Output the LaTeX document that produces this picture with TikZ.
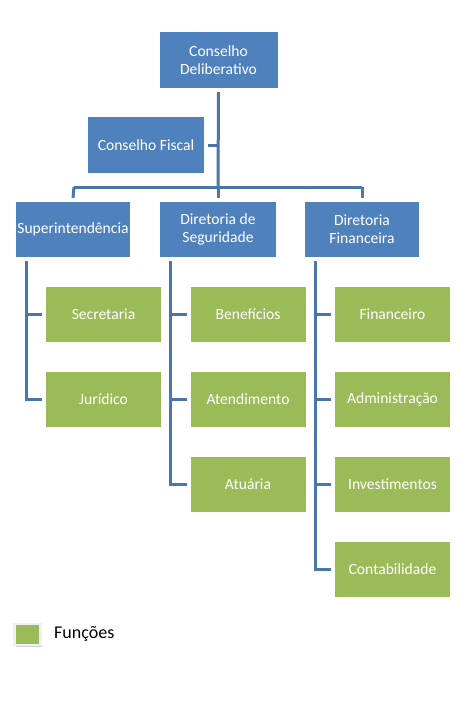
\documentclass[tikz,border=0pt]{standalone}
\usepackage{fontspec}
\setmainfont{Carlito}
\usetikzlibrary{shadows,backgrounds}
\definecolor{boxblue}{HTML}{4F81BD}
\definecolor{boxgreen}{HTML}{9BBB59}
\definecolor{linkblue}{HTML}{4A75AD}
\tikzset{
  orgbox/.style={draw=white, line width=4pt, text=white, align=center,
    font=\fontsize{15.6}{18}\selectfont, inner sep=0pt,
    drop shadow={shadow xshift=1pt, shadow yshift=-1.5pt, opacity=0.35, fill=black!60}},
  bluebox/.style={orgbox, fill=boxblue},
  greenbox/.style={orgbox, fill=boxgreen, minimum width=119pt, minimum height=59pt},
  link/.style={draw=linkblue, line width=3pt}
}
\begin{document}
\begin{tikzpicture}[x=1pt,y=-1pt]
% top
\node[bluebox, minimum width=122pt, minimum height=60pt] (cd) at (218.5,60) {Conselho\\Deliberativo};
\node[bluebox, minimum width=120pt, minimum height=60pt] (cf) at (146,145) {Conselho Fiscal};
% second row
\node[bluebox, minimum width=118pt, minimum height=59pt] (sup) at (73,229.5) {Superintendência};
\node[bluebox, minimum width=120pt, minimum height=59pt] (ds) at (218,229.5) {Diretoria de\\Seguridade};
\node[bluebox, minimum width=118pt, minimum height=59pt] (df) at (362,229.5) {Diretoria\\Financeira};
% children
\node[greenbox] (sec) at (103.5,314.5) {Secretaria};
\node[greenbox] (jur) at (103.5,399) {Jurídico};
\node[greenbox] (ben) at (248,314.5) {Benefícios};
\node[greenbox] (ate) at (248,399) {Atendimento};
\node[greenbox] (atu) at (248,484) {Atuária};
\node[greenbox] (fin) at (392.5,314.5) {Financeiro};
\node[greenbox] (adm) at (392.5,399) {Administração};
\node[greenbox] (inv) at (392.5,484) {Investimentos};
\node[greenbox] (con) at (392.5,569) {Contabilidade};
% coordinates
\coordinate (hub) at (218,187);
\coordinate (hl) at (74,187);
\coordinate (hr) at (362,187);
\coordinate (cfj) at (218,145);
\coordinate (s1) at (26,314.5);
\coordinate (s2) at (26,399);
\coordinate (d1) at (170,314.5);
\coordinate (d2) at (170,399);
\coordinate (d3) at (170,484);
\coordinate (f1) at (315,314.5);
\coordinate (f2) at (315,399);
\coordinate (f3) at (315,484);
\coordinate (f4) at (315,569);
% legend
\node[draw=black!6, fill=boxgreen, line width=2.5pt, minimum width=26pt, minimum height=21pt, inner sep=0pt,
  drop shadow={shadow xshift=1.5pt, shadow yshift=-1.5pt, opacity=0.35, fill=black!50}] (leg) at (27.5,634.5) {};
\node[anchor=west, font=\fontsize{18}{20}\selectfont, inner sep=0pt] (legt) at (54,634) {Funções};
% links
\begin{scope}[on background layer]
\fill[white] (0,0) rectangle (465,712);
\draw[link] (cd.south) -- (hub);
\draw[link] (cf.east) -- (cfj);
\draw[link] (hl) -- (hr);
\draw[link] (hl) -- (sup.north);
\draw[link] (hub) -- (ds.north);
\draw[link] (hr) -- (df.north);
\draw[link] (sup.south -| s1) -- (s2) -- (jur.west);
\draw[link] (s1) -- (sec.west);
\draw[link] (ds.south -| d1) -- (d3) -- (atu.west);
\draw[link] (d1) -- (ben.west);
\draw[link] (d2) -- (ate.west);
\draw[link] (df.south -| f1) -- (f4) -- (con.west);
\draw[link] (f1) -- (fin.west);
\draw[link] (f2) -- (adm.west);
\draw[link] (f3) -- (inv.west);
\end{scope}
\useasboundingbox (0,0) rectangle (465,712);
\end{tikzpicture}
\end{document}
